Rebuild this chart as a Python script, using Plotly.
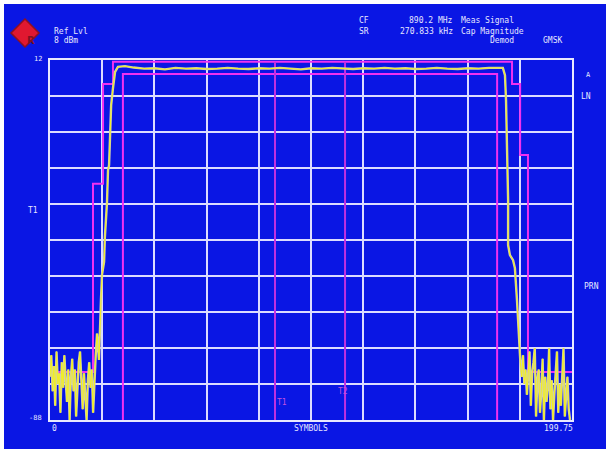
import plotly.graph_objects as go

# ---------------- data ----------------
# main trace: symbol position / level in dBm
trace_x = [0.0, 0.5, 1.0, 1.5, 2.0, 2.5, 3.0, 3.5, 4.0, 4.5, 5.0, 5.5, 6.0, 6.5, 7.0, 7.5,
           8.0, 8.5, 9.0, 9.5, 10.0, 10.5, 11.0, 11.5, 12.0, 12.5, 13.0, 13.5, 14.0, 14.5,
           15.0, 15.5, 16.0, 16.5, 17.0, 17.5, 18.0, 18.75, 19.5, 19.9, 20.7, 21.0, 21.8,
           22.2, 22.6, 23.0, 23.3, 23.4, 24.1, 24.9, 26.0, 28.7,
           32, 36, 40, 44, 48, 52, 56, 60, 64, 68, 72, 76, 80, 84, 88, 92, 96, 100, 104,
           108, 112, 116, 120, 124, 128, 132, 136, 140, 144, 148, 152, 156, 160, 164, 168,
           172, 173.3, 174.1, 174.5, 174.9, 175.3, 175.3, 176.0, 177.2, 177.9, 178.7, 179.5,
           180.0, 180.5, 181.0, 181.5, 182.0, 182.5, 183.0, 183.5, 184.0, 184.5, 185.0,
           185.5, 186.0, 186.5, 187.0, 187.5, 188.0, 188.5, 189.0, 189.5, 190.0, 190.5,
           191.0, 191.5, 192.0, 192.5, 193.0, 193.5, 194.0, 194.5, 195.0, 195.5, 196.0,
           196.5, 197.0, 197.5, 198.0, 198.5, 199.0, 199.75]
trace_y = [-76, -70, -80, -73, -84, -69, -78, -75, -86, -72, -79, -70, -77, -83, -74, -88,
           -76, -71, -80, -74, -87, -79, -72, -69, -78, -85, -75, -81, -88, -77,
           -72, -79, -74, -86, -76, -70, -64, -71.3, -54.7, -47.7, -44.1, -37.2, -27.7,
           -18.6, -17.2, -8.0, -4.7, -0.5, 4.2, 8.7, 10.1, 10.3,
           9.9, 9.6, 9.7, 9.4, 9.8, 9.6, 9.7, 9.5, 9.6, 9.8, 9.6, 9.5, 9.7, 9.6, 9.8, 9.6,
           9.4, 9.7, 9.6, 9.8, 9.6, 9.5, 9.7, 9.6, 9.8, 9.6, 9.7, 9.5, 9.6, 9.8, 9.6, 9.5,
           9.7, 9.6, 9.8, 9.9, 9.8, 7.8, 0.9, -13.0, -26.9, -39.4, -42.2, -43.6, -45.8,
           -54.7, -67.2,
           -72, -76, -70, -78, -74, -81, -73, -69, -84, -75, -72,
           -68, -87, -77, -74, -86, -80, -71, -88, -76, -83,
           -79, -68, -85, -77, -88, -81, -73, -69, -86, -78, -84,
           -75, -68, -87, -80, -76, -85, -88]

# upper limit line (mask)
upper_x = [0, 16.45, 16.45, 20.3, 20.3, 24.1, 24.1, 176.8, 176.8, 179.9, 179.9, 182.9, 182.9, 199.75]
upper_y = [-74.7, -74.7, -22.4, -22.4, 5.3, 5.3, 11.5, 11.5, 5.3, 5.3, -14.4, -14.4, -74.7, -74.7]

# lower limit line (mask)
lower_x = [27.9, 27.9, 171.1, 171.1]
lower_y = [-88, 8.1, 8.1, -88]

# time lines T1 / T2
time_lines = {"T1": 86.1, "T2": 112.9}

x_range = [0, 199.75]
y_range = [-88, 12]

# ---------------- figure ----------------
BLUE = "#0a16e4"
MAG = "#f030f0"
TXT = "#e6e6ff"
FONT = "DejaVu Sans Mono"

OFF = 4                      # page margin (px) around the figure
W, H = 610 - 2 * OFF, 453 - 2 * OFF
# plot area in window pixels
WL, WR, WT, WB = 50, 572, 60, 420
L, R, T, B = WL - OFF, WR - OFF, WT - OFF, WB - OFF


def px(xw):
    return (xw - OFF - L) / (R - L)


def py(yw):
    return (B - (yw - OFF)) / (B - T)


fig = go.Figure()

fig.add_trace(go.Scatter(x=upper_x, y=upper_y, mode="lines",
                         line=dict(color=MAG, width=2), hoverinfo="skip"))
fig.add_trace(go.Scatter(x=lower_x, y=lower_y, mode="lines",
                         line=dict(color=MAG, width=2), hoverinfo="skip"))
for name, xv in time_lines.items():
    fig.add_trace(go.Scatter(x=[xv, xv], y=[y_range[0], 11.5], mode="lines",
                             line=dict(color="#c030e0", width=2), hoverinfo="skip"))

fig.add_trace(go.Scatter(x=trace_x, y=trace_y, mode="lines",
                         line=dict(color="#cfcfb4", width=2.4), hoverinfo="skip"))
fig.add_trace(go.Scatter(x=trace_x, y=trace_y, mode="lines",
                         line=dict(color="#f4f020", width=1), hoverinfo="skip"))

fig.update_xaxes(range=x_range, dtick=(x_range[1] - x_range[0]) / 10, tick0=0,
                 showgrid=True, gridcolor="#dcdcff", gridwidth=2,
                 showline=True, linecolor="#e8e8ff", linewidth=2, mirror=True,
                 showticklabels=False, zeroline=False, ticks="")
fig.update_yaxes(range=y_range, dtick=10, tick0=12,
                 showgrid=True, gridcolor="#dcdcff", gridwidth=2,
                 showline=True, linecolor="#e8e8ff", linewidth=2, mirror=True,
                 showticklabels=False, zeroline=False, ticks="")

ann = []


def add_text(text, xw, yw, xanchor="left", size=8, color=TXT):
    ann.append(dict(text=text, x=px(xw), y=py(yw), xref="paper", yref="paper",
                    showarrow=False, xanchor=xanchor, yanchor="middle",
                    font=dict(family=FONT, size=size, color=color)))


add_text("Ref Lvl", 52, 31)
add_text("8 dBm", 52, 41)
add_text("CF", 357, 21)
add_text("890.2 MHz", 455, 21, xanchor="right")
add_text("Meas Signal", 459, 21)
add_text("SR", 357, 31)
add_text("270.833 kHz", 455, 31, xanchor="right")
add_text("Cap Magnitude", 459, 31)
add_text("Demod", 488, 41)
add_text("GMSK", 564, 41, xanchor="right")
add_text("12", 44, 59, xanchor="right", size=7)
add_text("T1", 40, 211, xanchor="right")
add_text("-88", 44, 418, xanchor="right", size=7)
add_text("0", 50, 429)
add_text("SYMBOLS", 311, 429, xanchor="center")
add_text("199.75", 575, 429, xanchor="right")
add_text("A", 588, 75, xanchor="center", size=7)
add_text("LN", 586, 97, xanchor="center")
add_text("PRN", 591, 286, xanchor="center")
add_text("T1", 282, 402, xanchor="center", color="#c050e0")
add_text("T2", 343, 391, xanchor="center", color="#c050e0")

# R&S style logo (diamond)
cx, cy, s = 25, 33, 14
logo_path = "M {} {} L {} {} L {} {} L {} {} Z".format(
    px(cx), py(cy - s), px(cx + s), py(cy), px(cx), py(cy + s), px(cx - s), py(cy))
shapes = [dict(type="path", path=logo_path, xref="paper", yref="paper",
               fillcolor="#e01830", line=dict(color="#901020", width=1.5), layer="above")]
ann.append(dict(text="<b>R</b>", x=px(cx), y=py(cy), xref="paper", yref="paper",
                showarrow=False, font=dict(family="DejaVu Sans", size=10, color="#801020")))

fig.update_layout(
    width=W, height=H,
    margin=dict(l=L, r=W - R, t=T, b=H - B, pad=0),
    paper_bgcolor=BLUE, plot_bgcolor=BLUE,
    showlegend=False,
    annotations=ann, shapes=shapes,
)

fig.write_html("out.html",
               post_script="document.body.style.margin='%dpx';" % OFF)
